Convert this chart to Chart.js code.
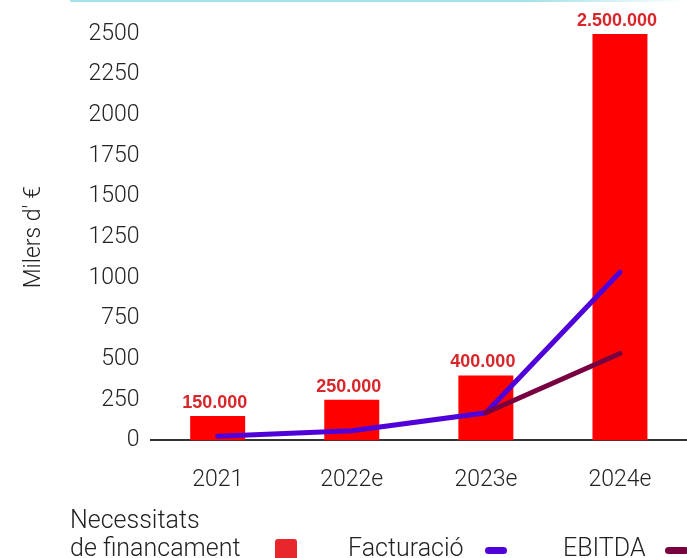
<!DOCTYPE html>
<html>
<head>
    <meta charset="utf-8">
    <title>Necessitats de financament</title>
    <script src="https://cdn.jsdelivr.net/npm/chart.js"></script>
    <style>
        html, body { margin: 0; padding: 0; background: #fff; overflow: hidden; }
        body { width: 687px; height: 558px; position: relative; font-family: Roboto, "Liberation Sans", sans-serif; font-weight: 300; color: #222; }
        .topline { position: absolute; left: 70px; top: 0; width: 617px; height: 2px; background: linear-gradient(to right, #a6e2ea, #a6e2ea 75%, #ffffff); }
        .chart-box { position: absolute; left: 0; top: 0; width: 687px; height: 530px; }
        #legend { position: absolute; left: 0; top: 0; width: 687px; height: 558px; pointer-events: none; }
        .txt { position: absolute; font-size: 25px; line-height: 28px; white-space: nowrap; }
        .sym { position: absolute; }
    </style>
</head>
<body>
    <div class="topline"></div>
    <div class="chart-box"><canvas id="chart" width="687" height="530"></canvas></div>
    <div id="legend"></div>

    <script>
        const years = ["2021", "2022e", "2023e", "2024e"];
        // milers d'euros
        const financament = [150, 250, 400, 2500];
        const facturacio = [25, 60, 170, 1035];
        const ebitda = [null, null, 170, 535];
        const yTicks = [0, 250, 500, 750, 1000, 1250, 1500, 1750, 2000, 2250, 2500];

        const RED = "#ff0000";
        const BLUE = "#5000d8";
        const MAROON = "#780040";
        const tickFont = { family: "Roboto", weight: "300", size: 23 };

        function euros(v) {
            return (v * 1000).toString().replace(/\B(?=(\d{3})+(?!\d))/g, ".");
        }

        // values printed over the bars
        const barLabels = {
            id: "barLabels",
            afterDatasetsDraw(chart) {
                const ctx = chart.ctx;
                const meta = chart.getDatasetMeta(2);
                ctx.save();
                ctx.font = "bold 18px 'Liberation Sans', Arial, sans-serif";
                ctx.fillStyle = "#d8262b";
                ctx.textAlign = "center";
                ctx.textBaseline = "alphabetic";
                meta.data.forEach((bar, i) => {
                    ctx.fillText(euros(financament[i]), bar.x - 3, bar.y - 8);
                });
                ctx.restore();
            }
        };

        const chart = new Chart(document.getElementById("chart"), {
            type: "bar",
            data: {
                labels: years,
                datasets: [
                    {
                        type: "line",
                        label: "EBITDA",
                        data: ebitda,
                        borderColor: MAROON,
                        backgroundColor: MAROON,
                        borderWidth: 5,
                        borderCapStyle: "round",
                        pointRadius: 0,
                        tension: 0,
                        order: 0
                    },
                    {
                        type: "line",
                        label: "Facturació",
                        data: facturacio,
                        borderColor: BLUE,
                        backgroundColor: BLUE,
                        borderWidth: 5,
                        borderCapStyle: "round",
                        pointRadius: 0,
                        tension: 0,
                        order: 1
                    },
                    {
                        label: "Necessitats de financament",
                        data: financament,
                        backgroundColor: RED,
                        barPercentage: 0.41,
                        categoryPercentage: 1,
                        order: 2
                    }
                ]
            },
            options: {
                responsive: false,
                animation: false,
                layout: { padding: { top: 34, right: 0, bottom: 10, left: 20 } },
                plugins: { legend: { display: false }, tooltip: { enabled: false } },
                scales: {
                    x: {
                        grid: { display: false, drawTicks: false },
                        border: { display: true, color: "#333", width: 2 },
                        ticks: { padding: 26, color: "#222", font: tickFont }
                    },
                    y: {
                        min: 0,
                        max: 2500,
                        afterBuildTicks(axis) { axis.ticks = yTicks.map(v => ({ value: v })); },
                        grid: { display: false, drawTicks: false },
                        border: { display: false },
                        title: { display: true, text: "Milers d' €", color: "#222", padding: { top: 0, bottom: 30 }, font: tickFont },
                        ticks: { padding: 11, color: "#222", font: tickFont, callback: v => String(v) }
                    }
                }
            },
            plugins: [barLabels]
        });

        // legend: label text first, symbol after
        const legendItems = [
            { text: "Necessitats<br>de financament", ds: 2, x: 70, y: 506, sym: { x: 275, y: 539, w: 22, h: 22, r: 3, color: "#e8262b" } },
            { text: "Facturació", ds: 1, x: 348, y: 534, sym: { x: 485, y: 547, w: 22, h: 7, r: 4 } },
            { text: "EBITDA", ds: 0, x: 563, y: 534, sym: { x: 665, y: 547, w: 24, h: 7, r: 4 } }
        ];
        const legend = document.getElementById("legend");
        legendItems.forEach(it => {
            const t = document.createElement("div");
            t.className = "txt";
            t.style.left = it.x + "px";
            t.style.top = it.y + "px";
            t.innerHTML = it.text;
            legend.appendChild(t);
            const s = document.createElement("div");
            s.className = "sym";
            Object.assign(s.style, {
                left: it.sym.x + "px", top: it.sym.y + "px",
                width: it.sym.w + "px", height: it.sym.h + "px",
                borderRadius: it.sym.r + "px",
                background: it.sym.color || chart.data.datasets[it.ds].borderColor
            });
            legend.appendChild(s);
        });
    </script>
</body>
</html>
